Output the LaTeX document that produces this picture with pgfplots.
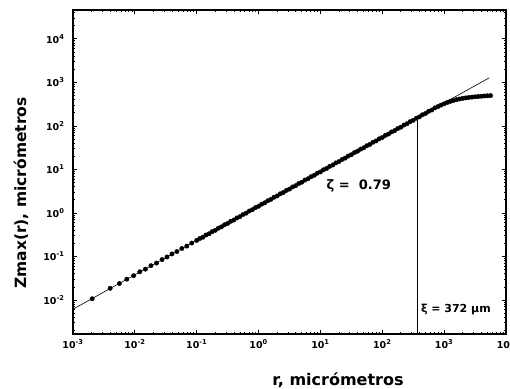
\documentclass[border=0pt]{standalone}
\usepackage{fontspec}
\setmainfont{DejaVu Sans}
\usepackage{pgfplots}
\usepackage{pgfplotstable}
\pgfplotsset{compat=1.18}
\pgfplotstableread{
lx ly
-2.69 -1.97
-2.40 -1.73
-2.25 -1.62
-2.13 -1.52
-2.02 -1.44
-1.92 -1.35
-1.83 -1.29
-1.74 -1.21
-1.65 -1.15
-1.56 -1.07
-1.48 -1.01
-1.40 -0.94
-1.32 -0.885
-1.24 -0.815
-1.16 -0.76
-1.08 -0.69
-1.00 -0.630
-0.95 -0.585
-0.90 -0.556
-0.85 -0.505
-0.80 -0.477
-0.75 -0.428
-0.70 -0.398
-0.65 -0.348
-0.60 -0.319
-0.55 -0.270
-0.50 -0.240
-0.45 -0.190
-0.40 -0.161
-0.35 -0.112
-0.30 -0.082
-0.25 -0.033
-0.20 -0.003
-0.15 0.046
-0.10 0.076
-0.05 0.125
0.00 0.155
0.05 0.204
0.10 0.234
0.15 0.283
0.20 0.313
0.25 0.362
0.30 0.392
0.35 0.441
0.40 0.471
0.45 0.520
0.50 0.550
0.55 0.599
0.60 0.629
0.65 0.678
0.70 0.708
0.75 0.757
0.80 0.787
0.85 0.836
0.90 0.866
0.95 0.915
1.00 0.945
1.05 0.994
1.10 1.024
1.15 1.073
1.20 1.103
1.25 1.152
1.30 1.182
1.35 1.231
1.40 1.261
1.45 1.310
1.50 1.340
1.55 1.389
1.60 1.419
1.65 1.468
1.70 1.498
1.75 1.547
1.80 1.577
1.85 1.626
1.90 1.656
1.95 1.705
2.00 1.735
2.05 1.784
2.10 1.814
2.15 1.863
2.20 1.893
2.25 1.942
2.30 1.972
2.35 2.021
2.40 2.051
2.45 2.100
2.50 2.130
2.55 2.179
2.60 2.209
2.65 2.258
2.70 2.288
2.75 2.337
2.80 2.367
2.85 2.416
2.90 2.446
2.95 2.480
3.00 2.510
3.05 2.540
3.10 2.565
3.15 2.585
3.20 2.605
3.25 2.620
3.30 2.635
3.35 2.645
3.40 2.655
3.45 2.663
3.50 2.670
3.55 2.677
3.60 2.683
3.65 2.689
3.70 2.694
3.75 2.698
}\datatab
\begin{document}
\begin{tikzpicture}
\begin{axis}[
  scale only axis, width=433pt, height=324pt,
  xmin=-3, xmax=4, ymin=-2.78, ymax=4.665,
  xtick={-3,-2,-1,0,1,2,3,4},
  xticklabels={10\textsuperscript{-3},10\textsuperscript{-2},10\textsuperscript{-1},10\textsuperscript{0},10\textsuperscript{1},10\textsuperscript{2},10\textsuperscript{3},10\textsuperscript{4}},
  ytick={-2,-1,0,1,2,3,4},
  yticklabels={10\textsuperscript{-2},10\textsuperscript{-1},10\textsuperscript{0},10\textsuperscript{1},10\textsuperscript{2},10\textsuperscript{3},10\textsuperscript{4}},
  minor xtick={-2.699,-2.523,-2.398,-2.301,-2.222,-2.155,-2.097,-2.046,
               -1.699,-1.523,-1.398,-1.301,-1.222,-1.155,-1.097,-1.046,
               -0.699,-0.523,-0.398,-0.301,-0.222,-0.155,-0.097,-0.046,
               0.301,0.477,0.602,0.699,0.778,0.845,0.903,0.954,
               1.301,1.477,1.602,1.699,1.778,1.845,1.903,1.954,
               2.301,2.477,2.602,2.699,2.778,2.845,2.903,2.954,
               3.301,3.477,3.602,3.699,3.778,3.845,3.903,3.954},
  minor ytick={-2.699,-2.523,-2.398,-2.301,-2.222,-2.155,-2.097,-2.046,
               -1.699,-1.523,-1.398,-1.301,-1.222,-1.155,-1.097,-1.046,
               -0.699,-0.523,-0.398,-0.301,-0.222,-0.155,-0.097,-0.046,
               0.301,0.477,0.602,0.699,0.778,0.845,0.903,0.954,
               1.301,1.477,1.602,1.699,1.778,1.845,1.903,1.954,
               2.301,2.477,2.602,2.699,2.778,2.845,2.903,2.954,
               3.301,3.477,3.602,3.699,3.778,3.845,3.903,3.954,
               4.301,4.477,4.602},
  tick align=inside, major tick length=4.5pt, minor tick length=2.2pt,
  axis line style={line width=1.8pt},
  every tick/.style={black, line width=0.9pt},
  ticklabel style={font=\bfseries\fontsize{9.5}{11}\selectfont},
  xticklabel style={yshift=-2pt},
  yticklabel style={xshift=-5pt},
  clip=false,
]
\addplot[black, line width=0.6pt, no marks] coordinates {(-3,-2.21) (3.73,3.107)};
\addplot[only marks, mark=*, mark size=2.2pt, black] table[x=lx, y=ly] {\datatab};
\addplot[black, line width=1.3pt, no marks] coordinates {(2.57,-2.78) (2.57,2.19)};
\node[font=\bfseries\fontsize{13}{15}\selectfont] at (axis cs:1.62,0.62) {ζ = \ 0.79};
\node[font=\bfseries\fontsize{11}{13}\selectfont] at (axis cs:3.19,-2.205) {ξ = 372 µm};
\node[font=\bfseries\fontsize{16}{18}\selectfont] at (axis cs:1.284,-3.837) {r, micrómetros};
\node[font=\bfseries\fontsize{15.5}{18}\selectfont, rotate=90] at (axis cs:-3.84,0.46) {Zmax(r), micrómetros};
\end{axis}
\pgfresetboundingbox
\path (-73pt,-54pt) rectangle (437pt,334pt);
\end{tikzpicture}
\end{document}
